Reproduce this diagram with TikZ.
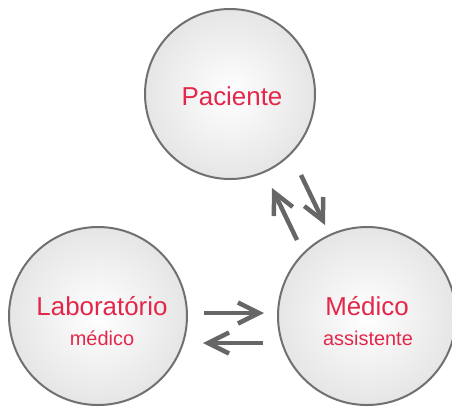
\documentclass[tikz,border=0pt]{standalone}
\usepackage{fontspec}
\setmainfont{Liberation Sans}
\usetikzlibrary{arrows.meta}
\definecolor{txt}{HTML}{E3274B}
\definecolor{edge}{HTML}{707070}
\definecolor{arr}{HTML}{666666}
\begin{document}
\begin{tikzpicture}[x=1bp,y=-1bp,
  bubble/.style={circle, draw=edge, line width=2bp, inner color=white, outer color=black!10, minimum size=#1, inner sep=0pt},
  flow/.style={draw=arr, line width=4.5bp, -{Straight Barb[length=21bp,width=21bp]}},
  big/.style={text=txt, font=\fontsize{26}{30}\selectfont, anchor=base, inner sep=0pt},
  small/.style={text=txt, font=\fontsize{20}{24}\selectfont, anchor=base, inner sep=0pt}]
\useasboundingbox (0,0) rectangle (452,409);
\node[bubble=170bp] (pac) at (230,94) {};
\node[bubble=178bp] (lab) at (98,316) {};
\node[bubble=178bp] (med) at (367,316) {};
\node[big] (pact) at (232,105) {Paciente};
\node[big] (labt) at (102,315) {Laboratório};
\node[small] (labs) at (102,345) {médico};
\node[big] (medt) at (367,315) {Médico};
\node[small] (meds) at (368,345) {assistente};
\coordinate (h1a) at (204,313);
\coordinate (h1b) at (264,313);
\coordinate (h2a) at (263,343);
\coordinate (h2b) at (203,343);
\coordinate (d1a) at (297,240);
\coordinate (d1b) at (272,188);
\coordinate (d2a) at (301,175);
\coordinate (d2b) at (325,225);
\draw[flow] (h1a) -- (h1b);
\draw[flow] (h2a) -- (h2b);
\draw[flow] (d1a) -- (d1b);
\draw[flow] (d2a) -- (d2b);
\end{tikzpicture}
\end{document}
